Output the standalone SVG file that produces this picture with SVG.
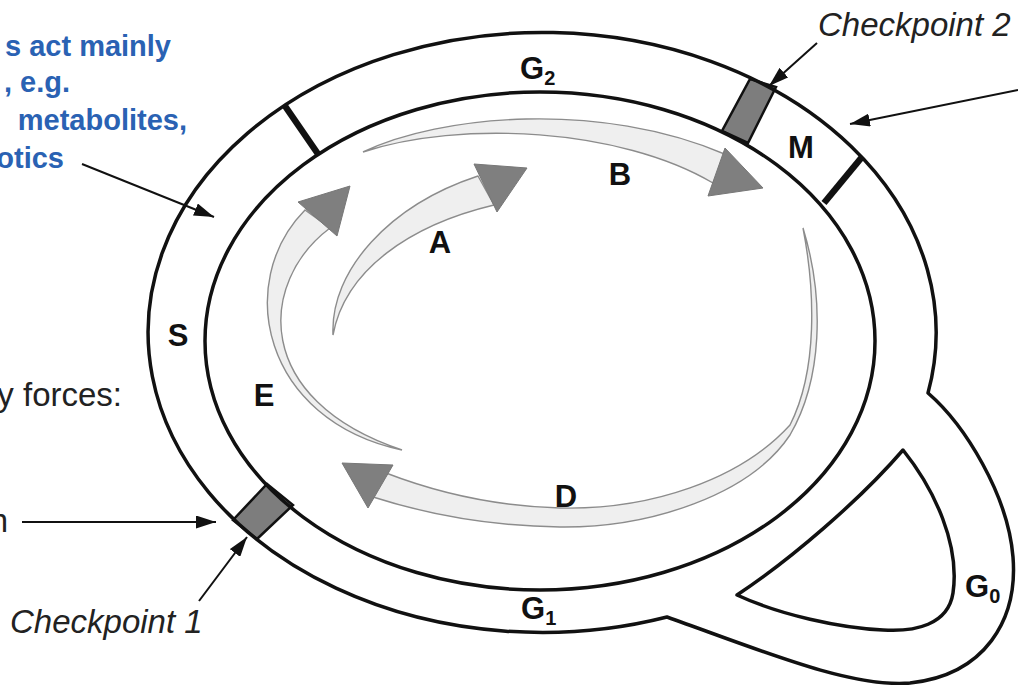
<svg xmlns="http://www.w3.org/2000/svg" width="1018" height="685" viewBox="0 0 1018 685">
  <style>
    .ring { fill: none; stroke: #111; stroke-width: 3.5; stroke-linejoin: round; }
    .bar { stroke: #111; stroke-width: 6.5; stroke-linecap: butt; }
    .checkpoint { fill: #7d7d7d; stroke: #111; stroke-width: 2.5; }
    .band { fill: #efefef; stroke: #8c8c8c; stroke-width: 1.4; }
    .head { fill: #7f7f7f; stroke: #777; stroke-width: 1; }
    .phase { font-family: "Liberation Sans", Arial, sans-serif; font-weight: bold; font-size: 31px; fill: #111; text-anchor: middle; }
    .g { text-anchor: start; }
    .sub { font-size: 20px; }
    .note { font-family: "Liberation Sans", Arial, sans-serif; font-weight: bold; font-size: 29px; fill: #2a62b3; text-anchor: end; }
    .plain { font-family: "Liberation Sans", Arial, sans-serif; font-size: 33px; fill: #222; }
    .cp { font-family: "Liberation Sans", Arial, sans-serif; font-style: italic; font-size: 33px; fill: #222; }
    .lead { stroke: #111; stroke-width: 2; fill: none; }
  </style>
  <defs>
    <marker id="tip" viewBox="0 0 20 13" refX="20" refY="6.5" markerWidth="20" markerHeight="13" markerUnits="userSpaceOnUse" orient="auto">
      <path d="M0,0 L20,6.5 L0,13 Z" fill="#111"/>
    </marker>
  </defs>
  <rect width="1018" height="685" fill="#fff"/>

  <!-- cell cycle ring with the G0 side loop -->
  <g id="cell-cycle">
    <polygon class="checkpoint" points="233,520 267,484 293,505 257,539"/>
    <polygon class="checkpoint" points="750,79 776,87 748,143 722,131"/>
    <path class="ring" d="M667,617 A394,300 0 1 1 928,393 C965,425 1008,495 1013,557 C1018,620 985,675 910,683 C850,688 760,650 667,617 Z"/>
    <ellipse class="ring" cx="540" cy="341" rx="335" ry="249"/>
    <path class="ring" d="M903,450 C935,490 960,545 953,593 C948,625 915,632 883,630 C840,628 780,615 737,595 C790,560 860,500 903,450 Z"/>
    <line class="bar" x1="285" y1="106" x2="318" y2="154"/>
    <line class="bar" x1="862" y1="157" x2="824" y2="203"/>
  </g>

  <!-- phase labels -->
  <g id="label-G2"><text class="phase g" x="520" y="79">G<tspan class="sub" dy="6">2</tspan></text></g>
  <g id="label-M"><text class="phase" x="801" y="158">M</text></g>
  <g id="label-S"><text class="phase" x="178" y="346">S</text></g>
  <g id="label-G1"><text class="phase g" x="521" y="619">G<tspan class="sub" dy="6">1</tspan></text></g>
  <g id="label-G0"><text class="phase g" x="965" y="597">G<tspan class="sub" dy="6">0</tspan></text></g>

  <!-- inner transition arrows -->
  <g id="transition-arrows">
    <g id="arrow-A">
      <path class="band" d="M333,335 C330,270 390,205 478,176 L494,205 C410,225 345,270 333,335 Z"/>
      <polygon class="head" points="474,164 527,168 497,212"/>
      <text class="phase" x="440" y="253">A</text>
    </g>
    <g id="arrow-B">
      <path class="band" d="M363,152 C440,115 600,100 727,155 L713,183 C620,128 460,120 363,152 Z"/>
      <polygon class="head" points="725,148 763,188 708,196"/>
      <text class="phase" x="620" y="185">B</text>
    </g>
    <g id="arrow-D">
      <path class="band" d="M803,228 C825,300 822,380 790,435 C750,495 650,528 560,527 C480,526 420,512 373,497 L386,473 C430,490 490,506 560,508 C650,510 740,480 790,425 C818,370 815,290 803,228 Z"/>
      <polygon class="head" points="342,463 393,465 368,508"/>
      <text class="phase" x="566" y="507">D</text>
    </g>
    <g id="arrow-E">
      <path class="band" d="M402,450 C262,420 234,282 305,210 L330,228 C258,282 252,400 402,450 Z"/>
      <polygon class="head" points="298,202 350,186 337,236"/>
      <text class="phase" x="264" y="406">E</text>
    </g>
  </g>

  <!-- side notes -->
  <g id="note-agents">
    <text class="note" x="171" y="56">s act mainly</text>
    <text class="note" x="70" y="92">, e.g.</text>
    <text class="note" x="187" y="130">metabolites,</text>
    <text class="note" x="64" y="168">otics</text>
  </g>
  <g id="note-forces"><text class="plain" x="122" y="406" text-anchor="end">y forces:</text></g>
  <g id="note-n"><text class="plain" x="8" y="532" text-anchor="end">n</text></g>
  <g id="label-checkpoint-1"><text class="cp" x="10" y="633">Checkpoint 1</text></g>
  <g id="label-checkpoint-2"><text class="cp" x="818" y="36">Checkpoint 2</text></g>

  <!-- pointer lines -->
  <g id="connectors">
    <line class="lead" x1="82" y1="164" x2="214" y2="217" marker-end="url(#tip)"/>
    <line class="lead" x1="22" y1="522" x2="216" y2="522" marker-end="url(#tip)"/>
    <line class="lead" x1="199" y1="601" x2="247" y2="537" marker-end="url(#tip)"/>
    <line class="lead" x1="817" y1="43" x2="769" y2="86" marker-end="url(#tip)"/>
    <line class="lead" x1="1018" y1="90" x2="850" y2="124" marker-end="url(#tip)"/>
  </g>
</svg>
